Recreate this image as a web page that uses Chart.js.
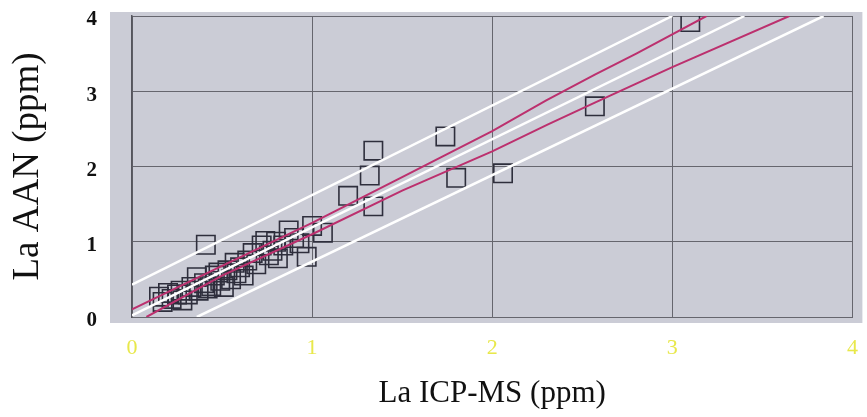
<!DOCTYPE html>
<html lang="en">
<head>
    <meta charset="UTF-8">
    <title>La AAN vs La ICP-MS</title>
    <script src="https://cdn.jsdelivr.net/npm/chart.js"></script>
    <style>
      html, body { margin: 0; padding: 0; background: #ffffff; }
      #wrap { width: 867px; height: 417px; }
    </style>
</head>
<body>
    <div id="wrap">
        <canvas id="laChart" width="867" height="417"></canvas>
    </div>

    <script>
        // samples: La ICP-MS (x) vs La AAN (y), ppm
        const icpms = [3.10, 2.57, 2.06, 1.80, 1.74, 1.34, 1.32, 1.34, 1.20, 1.06, 1.00, 0.97, 0.87, 0.41,
                       0.15, 0.17, 0.20, 0.22, 0.25, 0.27, 0.28, 0.31, 0.33, 0.36, 0.37, 0.40, 0.42, 0.44,
                       0.46, 0.48, 0.49, 0.51, 0.53, 0.55, 0.57, 0.58, 0.60, 0.62, 0.64, 0.67, 0.69, 0.72,
                       0.74, 0.76, 0.78, 0.80, 0.81, 0.84, 0.90, 0.93];
        const aan   = [3.92, 2.80, 1.91, 1.85, 2.40, 2.21, 1.88, 1.47, 1.61, 1.12, 1.21, 0.80, 1.15, 0.96,
                       0.27, 0.20, 0.32, 0.24, 0.30, 0.35, 0.22, 0.30, 0.40, 0.53, 0.35, 0.45, 0.38, 0.41,
                       0.55, 0.59, 0.48, 0.40, 0.62, 0.50, 0.72, 0.58, 0.66, 0.55, 0.75, 0.85, 0.70, 0.95,
                       1.01, 0.82, 0.88, 1.00, 0.78, 0.95, 1.05, 0.98];

        // regression line + prediction limits (white), read at the frame edges
        const fitX = [0.00, 3.40];
        const fitY = [0.02, 4.00];
        const predUpX = [0.00, 3.00];
        const predUpY = [0.43, 4.00];
        const predLoX = [0.36, 3.84];
        const predLoY = [0.00, 4.00];

        // confidence limits (magenta)
        const confUpX = [0.00, 0.50, 1.00, 1.50, 2.00, 2.30, 2.57, 2.80, 3.19];
        const confUpY = [0.10, 0.68, 1.25, 1.86, 2.47, 2.88, 3.22, 3.50, 4.00];
        const confLoX = [0.08, 0.50, 1.00, 1.50, 2.00, 2.31, 2.57, 3.00, 3.65];
        const confLoY = [0.00, 0.55, 1.10, 1.68, 2.20, 2.56, 2.85, 3.32, 4.00];

        const axisTicks = [0, 1, 2, 3, 4];

        const pts = (xs, ys) => xs.map((x, i) => ({ x: x, y: ys[i] }));

        const lineSet = (label, xs, ys, color, width) => ({
            label: label,
            data: pts(xs, ys),
            showLine: true,
            borderColor: color,
            borderWidth: width,
            pointRadius: 0,
            fill: false,
            tension: 0
        });

        // grey plot panel, a bit bigger than the chart area like the old spreadsheet frame
        const plotPanel = {
            id: 'plotPanel',
            beforeDraw(chart) {
                const { ctx, chartArea: a } = chart;
                ctx.save();
                ctx.fillStyle = '#cbccd6';
                ctx.fillRect(a.left - 22, a.top - 4, a.right - a.left + 32, a.bottom - a.top + 10);
                ctx.restore();
            }
        };

        const ctx = document.getElementById('laChart').getContext('2d');

        const laChart = new Chart(ctx, {
            type: 'scatter',
            data: {
                datasets: [
                    lineSet('Prediction upper', predUpX, predUpY, '#ffffff', 2.5),
                    lineSet('Prediction lower', predLoX, predLoY, '#ffffff', 2.5),
                    lineSet('Fit', fitX, fitY, '#ffffff', 2.5),
                    lineSet('Confidence upper', confUpX, confUpY, '#bc306e', 2),
                    lineSet('Confidence lower', confLoX, confLoY, '#bc306e', 2),
                    {
                        label: 'Samples',
                        data: pts(icpms, aan),
                        pointStyle: 'rect',
                        pointRadius: 13,
                        backgroundColor: 'rgba(0,0,0,0)',
                        borderColor: '#2e2e3c',
                        borderWidth: 1.6
                    }
                ]
            },
            options: {
                responsive: false,
                animation: false,
                layout: { padding: { top: 16, right: 10, left: 0, bottom: 0 } },
                plugins: {
                    legend: { display: false },
                    tooltip: { enabled: false }
                },
                scales: {
                    x: {
                        type: 'linear',
                        min: 0,
                        max: 4,
                        afterBuildTicks: s => { s.ticks = axisTicks.map(v => ({ value: v })); },
                        afterFit: s => { s.height = 100; s.paddingLeft = 0; s.paddingRight = 0; },
                        grid: { color: '#66666e', lineWidth: 1, drawTicks: false },
                        border: { color: '#66666e', width: 1 },
                        ticks: {
                            padding: 20,
                            color: '#e8e84a',
                            font: { family: 'Liberation Serif', size: 22, lineHeight: 1 }
                        },
                        title: {
                            display: true,
                            text: 'La ICP-MS (ppm)',
                            color: '#111111',
                            padding: { top: 0, bottom: 8 },
                            font: { family: 'Liberation Serif', size: 31, lineHeight: 1 }
                        }
                    },
                    y: {
                        type: 'linear',
                        min: 0,
                        max: 4,
                        afterBuildTicks: s => { s.ticks = axisTicks.map(v => ({ value: v })); },
                        afterFit: s => { s.width = 132; s.paddingTop = 0; s.paddingBottom = 0; },
                        grid: { color: '#66666e', lineWidth: 1, drawTicks: false },
                        border: { color: '#55555d', width: 1.5 },
                        ticks: {
                            padding: 35,
                            labelOffset: 4,
                            color: '#111111',
                            font: { family: 'Liberation Serif', size: 21, weight: 'bold', lineHeight: 1 }
                        },
                        title: {
                            display: true,
                            text: 'La AAN (ppm)',
                            color: '#111111',
                            padding: { top: 10, bottom: 0 },
                            font: { family: 'Liberation Serif', size: 37, lineHeight: 1 }
                        }
                    }
                }
            },
            plugins: [plotPanel]
        });
    </script>
</body>
</html>
